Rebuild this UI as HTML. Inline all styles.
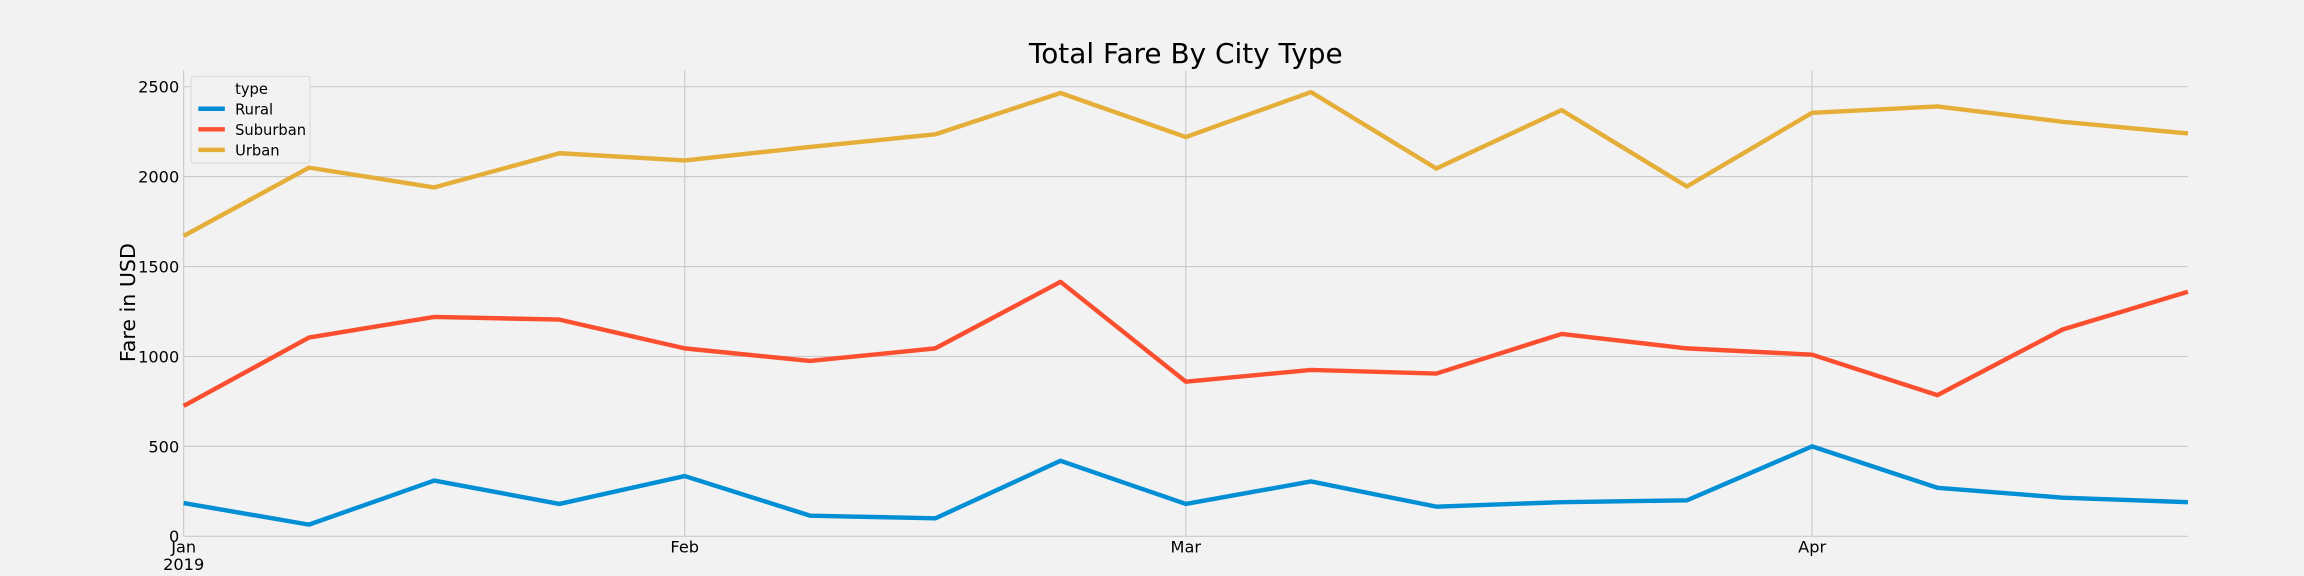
<!DOCTYPE html>
<html><head><meta charset="utf-8"><style>
html,body{margin:0;padding:0;background:#f2f2f2;}
svg{display:block;font-family:"DejaVu Sans","Liberation Sans",sans-serif;}
</style></head><body>
<svg id="chart" width="2304" height="576" viewBox="0 0 1568 392" xmlns="http://www.w3.org/2000/svg">
<rect width="1568" height="392" fill="#f2f2f2"/>
<text x="807" y="43" text-anchor="middle" font-size="19" fill="#000">Total Fare By City Type</text>
<text transform="translate(92,206) rotate(-90)" text-anchor="middle" font-size="14" fill="#000">Fare in USD</text>
<g id="grid"></g><g id="series"></g><g id="ticks"></g>
<g>
<rect x="130" y="52" width="81" height="59" fill="#f2f2f2" stroke="#dcdcdc" stroke-width="0.8" rx="2"/>
<text x="160" y="64" font-size="10">type</text>
<g><line x1="135" y1="74" x2="153" y2="74" stroke="#008fd5" stroke-width="3"/><text x="160" y="78" font-size="10">Rural</text></g>
<g><line x1="135" y1="88" x2="153" y2="88" stroke="#fc4f30" stroke-width="3"/><text x="160" y="92" font-size="10">Suburban</text></g>
<g><line x1="135" y1="102" x2="153" y2="102" stroke="#e5ae38" stroke-width="3"/><text x="160" y="106" font-size="10">Urban</text></g>
</g>
</svg>
<script>
const weeks = 17;
const rural = [185,65,310,180,335,115,100,420,180,305,165,190,200,500,270,215,190];
const suburban = [725,1105,1220,1205,1045,975,1045,1415,860,925,905,1125,1045,1010,785,1150,1360];
const urban = [1670,2050,1940,2130,2090,2165,2235,2465,2220,2470,2045,2370,1945,2355,2390,2305,2240];
const yTicks = [0,500,1000,1500,2000,2500];
const monthLabels = ['Jan','Feb','Mar','Apr'];
const monthIndex = [0,4,8,13];
const NS='http://www.w3.org/2000/svg';
const x0=125,x1=1489,yb=365,yt=48;
const xs=i=>x0+(x1-x0)*i/(weeks-1);
const ys=v=>yb-v*(306/2500);
function mk(t,a,p){const e=document.createElementNS(NS,t);for(const k in a)e.setAttribute(k,a[k]);p.appendChild(e);return e;}
const grid=document.getElementById('grid'),ticks=document.getElementById('ticks'),ser=document.getElementById('series');
yTicks.forEach(v=>{
 const l=mk('line',{x1:x0,x2:x1,y1:ys(v),y2:ys(v),stroke:'#cbcbcb','stroke-width':0.8},grid);
 
 
 const t=mk('text',{x:x0-3,y:ys(v)+4,'text-anchor':'end','font-size':11},ticks);
 t.textContent=v;
 
 
});
monthIndex.forEach((m,i)=>{
 const l=mk('line',{x1:xs(m),x2:xs(m),y1:yt,y2:yb,stroke:'#cbcbcb','stroke-width':0.8},grid);
 
 
 const t=mk('text',{x:xs(m),y:yb+11,'text-anchor':'middle','font-size':11},ticks);
 t.textContent=monthLabels[i];
 
 
});
const y19=mk('text',{x:xs(0),y:yb+23,'text-anchor':'middle','font-size':11},ticks);
y19.textContent='2019';


[[rural,'#008fd5','rural-line'],[suburban,'#fc4f30','suburban-line'],[urban,'#e5ae38','urban-line']].forEach(([d,c,n])=>{
 const p=mk('polyline',{points:d.map((v,i)=>xs(i)+','+ys(v)).join(' '),fill:'none',stroke:c,'stroke-width':3,'stroke-linejoin':'round'},ser);
 
 
});
</script>
</body></html>
